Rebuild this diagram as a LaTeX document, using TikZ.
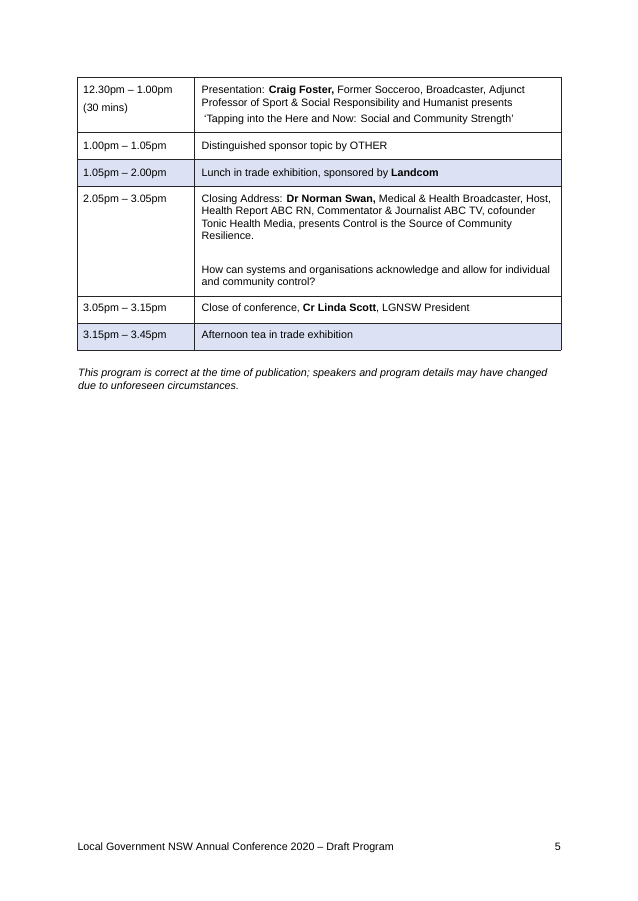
\documentclass[tikz,border=0pt]{standalone}
\usepackage{fontspec}
\setmainfont{Liberation Sans}
\definecolor{rowblue}{RGB}{220,226,243}
\tikzset{
  cell/.style={anchor=base west,inner sep=0pt,font=\fontsize{10}{11.5}\selectfont},
  note/.style={cell,font=\fontsize{10}{11.5}\selectfont\itshape},
  tablerule/.style={line width=0.8pt,black!85}
}
\begin{document}
\begin{tikzpicture}[x=0.9333pt,y=-0.9333pt]
  \useasboundingbox (0,0) rectangle (638,901);
  \fill[white] (0,0) rectangle (638,901);

  \coordinate (TL) at (77,77);   % table top left
  \coordinate (BR) at (561,350); % table bottom right

  % shaded rows
  \fill[rowblue] (77,159) rectangle (561,186);
  \fill[rowblue] (77,323) rectangle (561,350);

  % rules
  \foreach \y in {77,132,159,186,296,323,350} \draw[tablerule] (77,\y) -- (561,\y);
  \foreach \x in {77,194,561} \draw[tablerule] (\x,77) -- (\x,350);

  % time column
  \node[cell] (t1) at (83,93.5) {12.30pm – 1.00pm};
  \node[cell] (t1b) at (83,111.5) {(30 mins)};
  \node[cell] (t2) at (83,149.3) {1.00pm – 1.05pm};
  \node[cell] (t3) at (83,176) {1.05pm – 2.00pm};
  \node[cell] (t4) at (83,202) {2.05pm – 3.05pm};
  \node[cell] (t5) at (83,311) {3.05pm – 3.15pm};
  \node[cell] (t6) at (83,338) {3.15pm – 3.45pm};

  % session column
  \node[cell] (s1a) at (201.5,93.5) {Presentation: \textbf{Craig Foster,} Former Socceroo, Broadcaster, Adjunct};
  \node[cell] (s1b) at (201.5,106) {Professor of Sport \& Social Responsibility and Humanist presents};
  \node[cell] (s1c) at (204,122.7) {‘Tapping into the Here and Now: Social and Community Strength’};
  \node[cell] (s2) at (201.5,149.3) {Distinguished sponsor topic by OTHER};
  \node[cell] (s3) at (201.5,176) {Lunch in trade exhibition, sponsored by \textbf{Landcom}};
  \node[cell] (s4a) at (201.5,202) {Closing Address: \textbf{Dr Norman Swan,} Medical \& Health Broadcaster, Host,};
  \node[cell] (s4b) at (201.5,214.5) {Health Report ABC RN, Commentator \& Journalist ABC TV, cofounder};
  \node[cell] (s4c) at (201.5,227) {Tonic Health Media, presents Control is the Source of Community};
  \node[cell] (s4d) at (201.5,239) {Resilience.};
  \node[cell] (s4e) at (201.5,273) {How can systems and organisations acknowledge and allow for individual};
  \node[cell] (s4f) at (201.5,285) {and community control?};
  \node[cell] (s5) at (201.5,311) {Close of conference, \textbf{Cr Linda Scott}, LGNSW President};
  \node[cell] (s6) at (201.5,338) {Afternoon tea in trade exhibition};

  % note below table
  \node[note] (n1) at (78,376.5) {This program is correct at the time of publication; speakers and program details may have changed};
  \node[note] (n2) at (78,389.5) {due to unforeseen circumstances.};

  % footer
  \node[cell] (foot) at (77.3,850) {Local Government NSW Annual Conference 2020 – Draft Program};
  \node[cell,anchor=base east] (page) at (561,850) {5};
\end{tikzpicture}
\end{document}
